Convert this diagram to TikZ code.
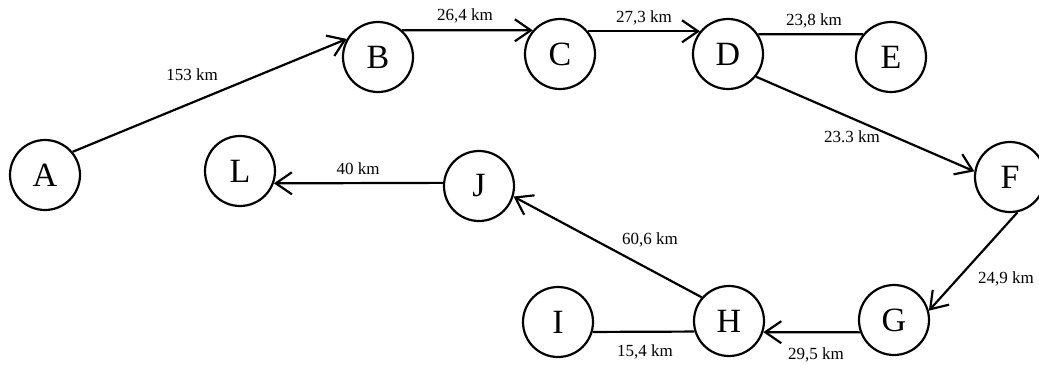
\documentclass[tikz,border=0pt]{standalone}
\usepackage{fontspec}
\setmainfont{Liberation Serif}
\usetikzlibrary{arrows.meta}
\begin{document}
\begin{tikzpicture}[x=1pt,y=-1pt,
  vertex/.style={circle,draw,line width=2.2pt,minimum size=70pt,inner sep=0pt,font=\fontsize{34}{34}\selectfont},
  edge/.style={line width=2.2pt},
  arr/.style={edge,-{Straight Barb[length=16pt,width=22pt,line width=2.2pt]}},
  lbl/.style={font=\fontsize{17}{17}\selectfont,inner sep=0pt}]
\useasboundingbox (0,0) rectangle (1039,365);
\fill[white] (0,0) rectangle (1039,365);
\node[vertex] (A) at (45,175) {A};
\node[vertex] (B) at (378,57) {B};
\node[vertex] (C) at (560,54) {C};
\node[vertex] (D) at (728,54) {D};
\node[vertex] (E) at (891,57) {E};
\node[vertex] (F) at (1010,177) {F};
\node[vertex] (G) at (894,320) {G};
\node[vertex] (H) at (729,321) {H};
\node[vertex] (I) at (558,322) {I};
\node[vertex] (J) at (479,186) {J};
\node[vertex] (L) at (240,171) {L};
\draw[arr] (A.40) -- (B.150);
\draw[arr] (B.48) -- (C.139);
\draw[arr] (C.39) -- (D.141);
\draw[edge] (D.33) -- (E.141);
\draw[arr] (D.-39) -- (F.171);
\draw[arr] (F.-78) -- (G.15);
\draw[arr] (G.200) -- (H.-18);
\draw[edge] (I.-16) -- (H.197);
\draw[arr] (H.139) -- (J.-17);
\draw[arr] (J.175) -- (L.-20);
\node[lbl] (l1) at (192,75) {153 km};
\node[lbl] (l2) at (465,16) {26,4 km};
\node[lbl] (l3) at (644,18) {27,3 km};
\node[lbl] (l4) at (814,21) {23,8 km};
\node[lbl] (l5) at (852,137) {23.3 km};
\node[lbl] (l6) at (1006,279) {24,9 km};
\node[lbl] (l7) at (816,355) {29,5 km};
\node[lbl] (l8) at (650,240) {60,6 km};
\node[lbl] (l9) at (645,352) {15,4 km};
\node[lbl] (l10) at (358,169) {40 km};
\end{tikzpicture}
\end{document}
